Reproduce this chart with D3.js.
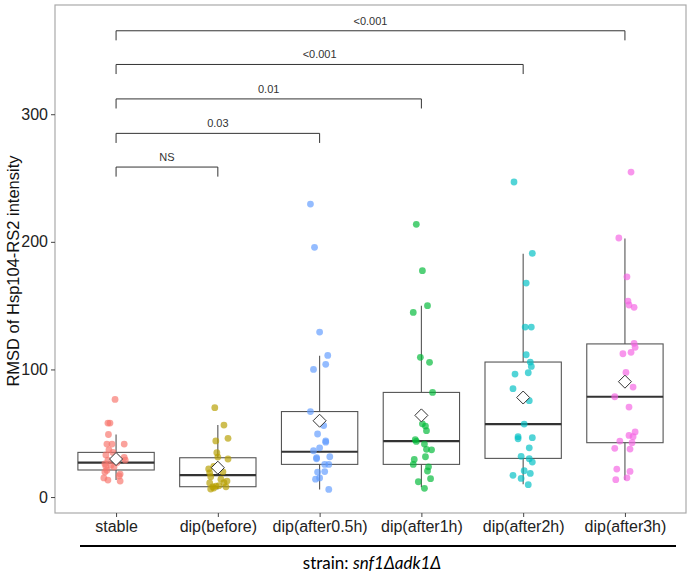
<!DOCTYPE html>
<html><head><meta charset="utf-8">
<script src="https://cdn.jsdelivr.net/npm/d3@7"></script>
<style>body{margin:0;background:#fff}svg{display:block}</style>
</head><body>
<script>
const categories = ["stable","dip(before)","dip(after0.5h)","dip(after1h)","dip(after2h)","dip(after3h)"];
const colors = ["#F8766D","#B79F00","#619CFF","#00BA38","#00BFC4","#F564E3"];
// point values per group
const valStable = [76.5,58,58,49,41.5,41.5,41.5,37,35,33,31,29,29,25,24,23.5,21,19.6,18,16.5,13.3,12.5,15,27,26];
const valBefore = [70,56.4,46,44,34.7,31.3,29.8,22,19,19.8,16,14,11,8,8.6,11.2,8,7,6.3,8.9,12.5,24];
const valA05 = [229.6,195.7,129.3,111,104,100,67,56,49.4,43,44,38.6,36.3,30.8,30,31.6,25.6,25.6,19.6,20,14,15,6];
const valA1 = [213.7,177.4,150,144.7,109.5,105.6,82,57.4,55.6,52,45,43.6,41.5,37.4,37,31.6,29.5,25.6,23.7,20.4,14.4,12,6.8];
const valA2 = [246.9,191,167.7,133.2,133.2,111.5,105.8,102.4,96.4,97.4,84.9,75.5,57.2,47.3,45.7,46.5,38.6,31.9,30,27.4,20.6,18.5,17,14.6,9.7];
const valA3 = [254.7,203,172.6,153.6,150.5,148.7,120.5,117.3,112.3,113.4,97.7,86.2,78.6,70.5,51,48.3,47.3,43.9,42.6,38.2,37.6,21.9,20.1,13.6,15.1];
// horizontal jitter (fraction of category step)
const jitStable = [-0.01,-0.08,-0.06,-0.075,-0.09,-0.04,0.08,-0.07,-0.03,-0.1,0.08,0.09,-0.08,-0.05,-0.1,-0.02,-0.09,-0.11,0.04,0.03,-0.08,0.04,-0.12,0.01,-0.11];
const jitBefore = [-0.03,0.06,0.1,-0.02,-0.01,0,0.1,-0.09,-0.08,0.05,-0.07,0.03,-0.08,-0.05,-0.02,0.06,0.08,-0.04,-0.07,0.01,0.09,-0.04];
const jitA05 = [-0.09,-0.05,0,0.08,0.06,-0.06,-0.09,0.04,-0.02,0.06,0.06,0,-0.06,-0.03,-0.03,0.1,0.05,0.09,-0.02,0.05,-0.04,0,0.09];
const jitA1 = [-0.05,0.01,0.06,-0.08,-0.01,0.08,0.11,0.01,0.04,0.05,-0.06,-0.05,0.03,0.05,0.1,0.04,-0.07,-0.08,0.07,0.06,0.09,-0.03,0.03];
const jitA2 = [-0.09,0.09,0.03,0.02,0.08,0.03,0.07,0.08,-0.08,0.05,-0.1,0.06,0.01,-0.05,-0.05,0.09,0.06,-0.02,0.06,0.09,0.01,0.07,-0.1,-0.02,0.05];
const jitA3 = [0.06,-0.06,0.02,0.03,0.04,0.09,0.09,0.1,-0.02,0.06,0.01,0.08,-0.1,0.04,0.1,0.04,0.08,-0.05,0.07,-0.1,0.05,-0.08,0.05,-0.09,0.02];
// box statistics
const whiskLo = [13.3,6,6,7.6,10,13.3];
const q1 = [21.2,8.1,25.6,25.6,30.3,42.6];
const median = [26.9,17.2,35.5,43.9,57.2,78.6];
const q3 = [35,30.8,67,82,105.8,120];
const whiskHi = [49,56.4,110.7,150,190.7,202.7];
const means = [29.8,23,59.8,64,78,90.4];
// significance brackets: stable vs group
const sigTo = [1,2,3,4,5];
const sigLabels = ["NS","0.03","0.01","<0.001","<0.001"];
const sigY = [258.6,285,312,339,365.4];
const yTicks = [0,100,200,300];

const groups = [valStable,valBefore,valA05,valA1,valA2,valA3];
const jits = [jitStable,jitBefore,jitA05,jitA1,jitA2,jitA3];

const W=691,H=576;
const svg=d3.select("body").append("svg").attr("width",W).attr("height",H);
const L=55,R=686,T=5,B=513;
const x=d3.scalePoint().domain(categories).range([L,R]).padding(0.6);
const y=d3.scaleLinear().domain([-12.5,385.6]).range([B,T]);
const step=x.step();
const bw=0.75*step;
const FONT="Liberation Sans, Arial, sans-serif";

// boxes
const g=svg.append("g");
categories.forEach((c,i)=>{
  const cx=x(c);
  g.append("line").attr("x1",cx).attr("x2",cx).attr("y1",y(q3[i])).attr("y2",y(whiskHi[i])).attr("stroke","#555").attr("stroke-width",1.1);
  g.append("line").attr("x1",cx).attr("x2",cx).attr("y1",y(q1[i])).attr("y2",y(whiskLo[i])).attr("stroke","#555").attr("stroke-width",1.1);
  g.append("rect").attr("x",cx-bw/2).attr("width",bw).attr("y",y(q3[i])).attr("height",y(q1[i])-y(q3[i]))
    .attr("fill","none").attr("stroke","#555").attr("stroke-width",1.1);
  g.append("line").attr("x1",cx-bw/2).attr("x2",cx+bw/2).attr("y1",y(median[i])).attr("y2",y(median[i])).attr("stroke","#333").attr("stroke-width",2.2);
});
// points
categories.forEach((c,i)=>{
  svg.append("g").selectAll("circle").data(groups[i]).join("circle")
    .attr("cx",(d,k)=>x(c)+jits[i][k]*step).attr("cy",d=>y(d)).attr("r",3.4)
    .attr("fill",colors[i]).attr("fill-opacity",0.68);
});
// means
categories.forEach((c,i)=>{
  const cx=x(c),cy=y(means[i]),s=6.5;
  svg.append("path").attr("d",`M${cx},${cy-s}L${cx+s},${cy}L${cx},${cy+s}L${cx-s},${cy}Z`)
    .attr("fill","#fff").attr("stroke","#333").attr("stroke-width",1);
});
// significance
sigTo.forEach((j,k)=>{
  const x1=x(categories[0]),x2=x(categories[j]),yy=y(sigY[k]),d=y(sigY[k]-7.5)-yy;
  svg.append("path").attr("d",`M${x1},${yy+d}V${yy}H${x2}V${yy+d}`).attr("fill","none").attr("stroke","#333").attr("stroke-width",1);
  svg.append("text").attr("x",(x1+x2)/2).attr("y",yy-6).attr("text-anchor","middle")
    .attr("font-family",FONT).attr("font-size",11).attr("fill","#333").text(sigLabels[k]);
});
// panel border
svg.append("rect").attr("x",L).attr("y",T).attr("width",R-L).attr("height",B-T).attr("fill","none").attr("stroke","#aaa").attr("stroke-width",1.2);
// axes
const ya=svg.append("g").attr("transform",`translate(${L},0)`).call(d3.axisLeft(y).tickValues(yTicks).tickSize(4).tickPadding(3));
const xa=svg.append("g").attr("transform",`translate(0,${B})`).call(d3.axisBottom(x).tickSize(4).tickPadding(4));
[ya,xa].forEach(a=>{a.select(".domain").remove();a.selectAll(".tick line").attr("stroke","#444");
  a.selectAll("text").attr("font-family",FONT).attr("font-size",16).attr("fill","#222");});
svg.append("text").attr("transform",`translate(19,${(T+B)/2+12}) rotate(-90)`).attr("text-anchor","middle")
  .attr("font-family",FONT).attr("font-size",16.5).attr("fill","#111").text("RMSD of Hsp104-RS2 intensity");
// strain line and label
svg.append("line").attr("x1",80).attr("x2",676).attr("y1",546).attr("y2",546).attr("stroke","#000").attr("stroke-width",1.8);
const t=svg.append("text").attr("x",372).attr("y",569).attr("text-anchor","middle").attr("font-family","Lato, Open Sans, sans-serif").attr("font-size",17).attr("fill","#000");
t.append("tspan").text("strain: ");
t.append("tspan").attr("font-style","italic").text("snf1Δadk1Δ");
</script>
</body></html>
